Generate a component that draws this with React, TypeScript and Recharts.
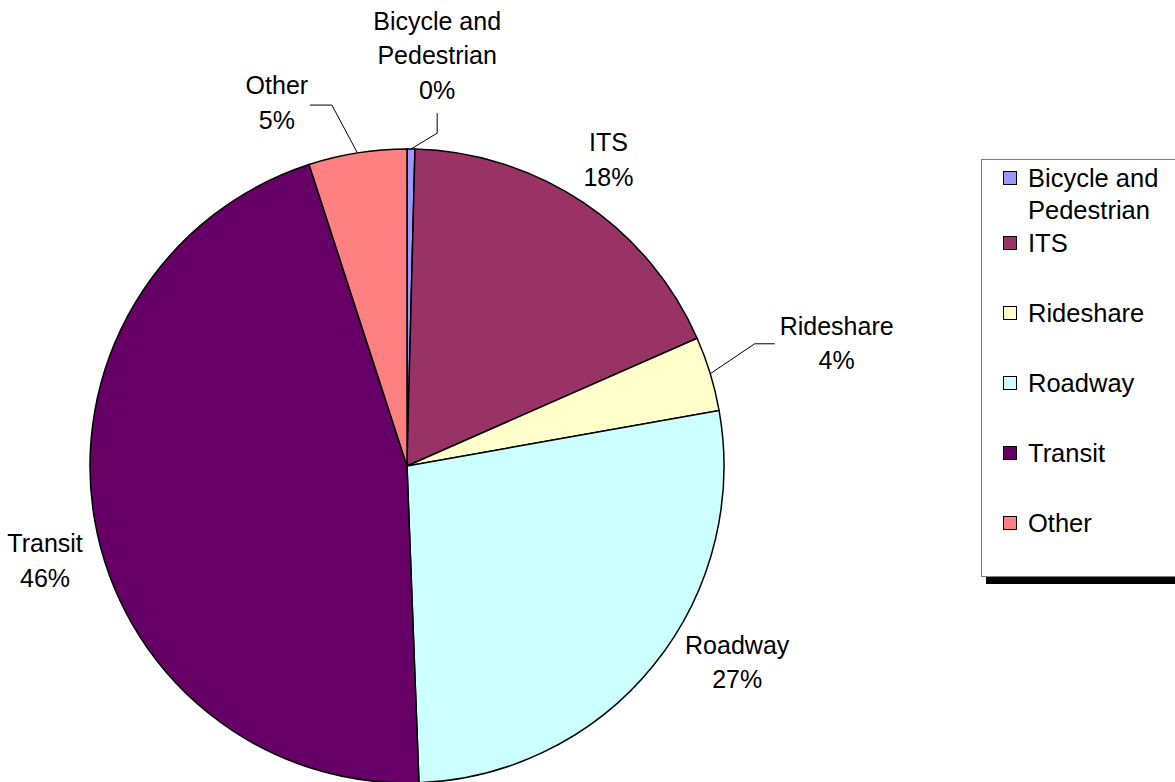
import { PieChart, Pie, Cell, Legend } from 'recharts'

const categories = ['Bicycle and Pedestrian', 'ITS', 'Rideshare', 'Roadway', 'Transit', 'Other']
// share of funding, percent
const shares = [0.4, 18.0, 3.8, 27.2, 45.6, 5.0]
const colors = ['#9999FF', '#993366', '#FFFFCC', '#CCFFFF', '#660066', '#FF8080']
// how the long name wraps in labels and legend
const wrapped = [['Bicycle and', 'Pedestrian'], ['ITS'], ['Rideshare'], ['Roadway'], ['Transit'], ['Other']]

// label placement: polar spot of the label block (deg clockwise from 12 o'clock, px from centre)
// plus optional leader (end, elbow) offsets from the label centre — Excel's "best fit" look
const labelSpots: { angle: number; dist: number; lead?: [number, number][] }[] = [
  { angle: 4.2, dist: 412, lead: [[0, 58], [0, 78]] },
  { angle: 33.3, dist: 367 },
  { angle: 74.0, dist: 447, lead: [[-62, 1], [-82, 1]] },
  { angle: 120.7, dist: 384 },
  { angle: 255.4, dist: 374 },
  { angle: 340.3, dist: 386, lead: [[33, 2.5], [55, 2.5]] },
]

const FONT = '"Liberation Sans", Arial, sans-serif'
const FONT_SIZE = 25
const LINE = 34.5

const data = categories.map((name, i) => ({ name, value: shares[i] }))

const rad = (d: number) => (d * Math.PI) / 180

function renderLabel(props: any) {
  const { cx, cy, midAngle, outerRadius, index } = props
  const spot = labelSpots[index]
  const lx = cx + spot.dist * Math.sin(rad(spot.angle))
  const ly = cy - spot.dist * Math.cos(rad(spot.angle))
  const lines = [...wrapped[index], `${Math.round(shares[index])}%`]
  // midAngle from recharts is counter-clockwise from 3 o'clock
  const ax = cx + outerRadius * Math.cos(rad(-midAngle))
  const ay = cy + outerRadius * Math.sin(rad(-midAngle))
  return (
    <g key={`lbl-${index}`}>
      {spot.lead && (
        <polyline
          points={`${lx + spot.lead[0][0]},${ly + spot.lead[0][1]} ${lx + spot.lead[1][0]},${ly + spot.lead[1][1]} ${ax},${ay}`}
          fill="none"
          stroke="#000"
          strokeWidth={1}
        />
      )}
      {lines.map((t, k) => (
        <text
          key={k}
          x={lx}
          y={ly + (k - (lines.length - 1) / 2) * LINE}
          textAnchor="middle"
          dominantBaseline="central"
          fontFamily={FONT}
          fontSize={FONT_SIZE}
          fill="#000"
        >
          {t}
        </text>
      ))}
    </g>
  )
}

function LegendBox() {
  return (
    <div
      style={{
        position: 'relative',
        width: 215,
        height: 418,
        border: '1px solid #808080',
        background: '#fff',
        boxShadow: '5px 7px 0 #000',
        boxSizing: 'border-box',
        fontFamily: FONT,
        fontSize: 25.5,
        lineHeight: '32px',
        color: '#000',
      }}
    >
      {categories.map((c, i) => {
        const mid = i === 0 ? 18 : 83 + 70 * (i - 1)
        return (
          <div key={c}>
            <div
              style={{
                position: 'absolute',
                left: 21,
                top: mid - 7,
                width: 12,
                height: 12,
                background: colors[i],
                border: '1.5px solid #000',
              }}
            />
            <div style={{ position: 'absolute', left: 46, top: mid - 16, whiteSpace: 'nowrap' }}>
              {wrapped[i].map((w) => (
                <div key={w}>{w}</div>
              ))}
            </div>
          </div>
        )
      })}
    </div>
  )
}

export default function App() {
  return (
    <div style={{ position: 'fixed', left: 0, top: 0, width: 1175, height: 782, background: '#fff', overflow: 'hidden' }}>
      <PieChart width={1175} height={782} margin={{ top: 0, right: 0, bottom: 0, left: 0 }}>
        <Pie
          data={data}
          dataKey="value"
          nameKey="name"
          cx={407}
          cy={466}
          outerRadius={317}
          startAngle={90}
          endAngle={-270}
          label={renderLabel}
          labelLine={false}
          isAnimationActive={false}
        >
          {data.map((d, i) => (
            <Cell key={d.name} fill={colors[i]} stroke="#000" strokeWidth={1.5} />
          ))}
        </Pie>
        <Legend
          content={() => <LegendBox />}
          wrapperStyle={{ position: 'absolute', left: 981, top: 159, width: 215, height: 430 }}
        />
      </PieChart>
    </div>
  )
}
